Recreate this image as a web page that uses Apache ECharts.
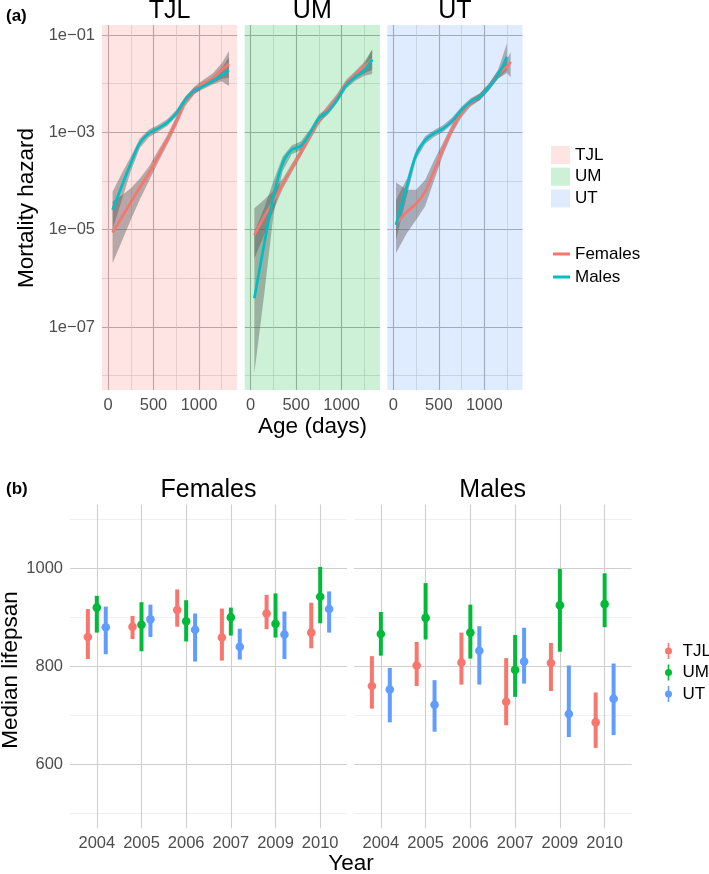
<!DOCTYPE html>
<html><head><meta charset="utf-8">
<script src="https://cdn.jsdelivr.net/npm/echarts@6/dist/echarts.min.js"></script>
<style>html,body{margin:0;padding:0;background:#fff}#c{width:709px;height:874px}</style>
</head><body><div id="c"></div>
<script>
// ================= DATA =================
// Panel (a): mortality hazard, values are log10(hazard)
const ageTJL = [50,150,250,350,450,550,650,750,850,950,1050,1150,1250,1330];
const ageUM  = [40,150,250,350,450,550,650,750,850,950,1050,1150,1250,1335];
const ageUT  = [30,150,250,350,450,550,650,750,850,950,1050,1150,1250,1290];

const tjlF   = [-5.06,-4.75,-4.44,-4.13,-3.84,-3.50,-3.16,-2.78,-2.37,-2.14,-1.99,-1.89,-1.72,-1.60];
const tjlFlo = [-5.69,-5.25,-4.80,-4.38,-4.00,-3.62,-3.26,-2.88,-2.46,-2.22,-2.07,-1.99,-1.90,-1.88];
const tjlFhi = [-4.42,-4.30,-4.15,-3.95,-3.70,-3.38,-3.06,-2.68,-2.28,-2.06,-1.92,-1.79,-1.58,-1.33];
const tjlM   = [-4.59,-4.11,-3.64,-3.22,-3.02,-2.92,-2.80,-2.61,-2.33,-2.14,-2.05,-1.94,-1.82,-1.72];
const tjlMlo = [-5.00,-4.40,-3.80,-3.32,-3.10,-2.99,-2.87,-2.68,-2.40,-2.20,-2.11,-2.02,-1.95,-2.05];
const tjlMhi = [-4.22,-3.85,-3.50,-3.12,-2.94,-2.85,-2.73,-2.54,-2.26,-2.08,-1.99,-1.86,-1.68,-1.45];

const umF    = [-5.11,-4.73,-4.41,-4.07,-3.74,-3.42,-3.09,-2.76,-2.51,-2.28,-1.99,-1.82,-1.65,-1.50];
const umFlo  = [-5.60,-5.10,-4.60,-4.17,-3.83,-3.50,-3.17,-2.84,-2.58,-2.35,-2.06,-1.90,-1.78,-1.72];
const umFhi  = [-4.56,-4.38,-4.20,-3.96,-3.65,-3.34,-3.01,-2.68,-2.44,-2.21,-1.92,-1.74,-1.55,-1.30];
const umM    = [-6.41,-5.28,-4.32,-3.64,-3.36,-3.28,-3.02,-2.71,-2.57,-2.33,-2.03,-1.86,-1.72,-1.51];
const umMlo  = [-7.95,-6.30,-4.70,-3.80,-3.45,-3.37,-3.10,-2.79,-2.64,-2.40,-2.10,-1.94,-1.84,-1.80];
const umMhi  = [-5.05,-4.55,-4.00,-3.50,-3.27,-3.19,-2.94,-2.63,-2.50,-2.26,-1.96,-1.78,-1.60,-1.30];

const utF    = [-4.88,-4.63,-4.47,-4.22,-3.79,-3.33,-2.92,-2.61,-2.40,-2.27,-2.07,-1.82,-1.65,-1.55];
const utFlo  = [-5.48,-5.07,-4.80,-4.52,-3.98,-3.45,-3.02,-2.69,-2.47,-2.34,-2.14,-1.90,-1.78,-1.87];
const utFhi  = [-4.03,-4.18,-4.18,-3.98,-3.57,-3.20,-2.82,-2.53,-2.33,-2.20,-2.00,-1.74,-1.50,-1.35];
const utM    = [-4.90,-4.11,-3.46,-3.16,-3.02,-2.92,-2.76,-2.54,-2.37,-2.27,-2.07,-1.82,-1.45,null];
const utMlo  = [-5.21,-4.30,-3.56,-3.24,-3.09,-2.99,-2.83,-2.61,-2.44,-2.34,-2.14,-1.90,-1.72,null];
const utMhi  = [-4.39,-3.95,-3.37,-3.08,-2.95,-2.85,-2.69,-2.47,-2.30,-2.20,-2.00,-1.72,-1.17,null];

const hazardMajor = [-7,-5,-3,-1];
const hazardMinor = [-8,-6,-4,-2];
const ageMajor = [0,500,1000];
const ageMinor = [250,750,1250];

// Panel (b): median lifespan
const years = ['2004','2005','2006','2007','2009','2010'];
const fTJL   = [860,881,915,859,908,869];
const fTJLlo = [815,856,881,812,876,837];
const fTJLhi = [917,903,957,918,946,930];
const fUM    = [920,885,892,900,887,942];
const fUMlo  = [869,831,851,863,859,888];
const fUMhi  = [944,931,935,920,949,1003];
const fUT    = [880,896,875,840,865,917];
const fUTlo  = [825,860,810,814,815,869];
const fUThi  = [922,926,908,877,912,953];

const mTJL   = [760,802,808,728,807,686];
const mTJLlo = [714,760,763,680,750,634];
const mTJLhi = [821,850,869,817,848,747];
const mUM    = [866,899,869,793,925,927];
const mUMlo  = [822,855,816,738,830,880];
const mUMhi  = [911,970,926,864,999,990];
const mUT    = [753,722,832,810,703,734];
const mUTlo  = [686,667,763,765,656,660];
const mUThi  = [797,772,882,879,802,806];

const lifeMajor = [600,800,1000];
const lifeMinor = [500,700,900,1100];

// ================= STYLE / LAYOUT =================
const FONT = '"Liberation Sans", Arial, Helvetica, sans-serif';
const siteCol = {TJL:'#F8766D', UM:'#00BA38', UT:'#619CFF'};
const siteFill = {TJL:'rgba(248,118,109,0.2)', UM:'rgba(0,186,56,0.2)', UT:'rgba(97,156,255,0.2)'};
const sexCol = {Females:'#F8766D', Males:'#00BFC4'};
const tickCol = '#4d4d4d';

const panelsA = [
  {site:'TJL', left:102,   ages:ageTJL, F:tjlF, Flo:tjlFlo, Fhi:tjlFhi, M:tjlM, Mlo:tjlMlo, Mhi:tjlMhi},
  {site:'UM',  left:244.7, ages:ageUM,  F:umF,  Flo:umFlo,  Fhi:umFhi,  M:umM,  Mlo:umMlo,  Mhi:umMhi},
  {site:'UT',  left:387.3, ages:ageUT,  F:utF,  Flo:utFlo,  Fhi:utFhi,  M:utM,  Mlo:utMlo,  Mhi:utMhi}
];
const panelsB = [
  {left:70,  width:277,   series:{TJL:[fTJL,fTJLlo,fTJLhi], UM:[fUM,fUMlo,fUMhi], UT:[fUT,fUTlo,fUThi]}},
  {left:354, width:277.5, series:{TJL:[mTJL,mTJLlo,mTJLhi], UM:[mUM,mUMlo,mUMhi], UT:[mUT,mUTlo,mUThi]}}
];

const grid = [], xAxis = [], yAxis = [], series = [];
const majA = {color:'#b0b0b0', width:1.1};
const minA = {color:'#cdcdcd', width:0.6};
const majB = {color:'#cfcfcf', width:1.1};
const minB = {color:'#e6e6e6', width:0.6};

function valAxis(gi, min, max, major, showLabels, fmt, lineStyle, extra) {
  return Object.assign({
    type:'value', gridIndex:gi, min:min, max:max,
    axisLine:{show:false},
    axisTick:{show:false, customValues:major},
    axisLabel:{show:showLabels, customValues:major, formatter:fmt, color:tickCol,
               fontSize:16.5, fontFamily:FONT, margin:7},
    splitLine:{show:true, lineStyle:lineStyle},
    minorTick:{show:false}, minorSplitLine:{show:false}
  }, extra || {});
}

// ---- panel (a) ----
panelsA.forEach((p, g) => {
  grid.push({left:p.left, top:25, width:135.2, height:365, outerBoundsMode:'none', containLabel:false});
});
panelsA.forEach((p, g) => {
  xAxis.push(valAxis(g, -66, 1420, ageMajor, true, v => String(v), majA));
});
panelsA.forEach((p, g) => {
  xAxis.push(valAxis(g, -66, 1420, ageMinor, false, null, minA));
});
panelsA.forEach((p, g) => {
  yAxis.push(valAxis(g, -8.294, -0.795, hazardMajor, g === 0,
    v => '1e\u22120' + Math.round(-v), majA));
});
panelsA.forEach((p, g) => {
  yAxis.push(valAxis(g, -8.294, -0.795, hazardMinor, false, null, minA));
});

function ribbon(g, ages, lo, hi) {
  return {
    type:'custom', xAxisIndex:g, yAxisIndex:g, z:3, silent:true, clip:true,
    data:[[ages[0], lo[0]]],
    renderItem:(params, api) => {
      const up = [], dn = [];
      ages.forEach((a, i) => {
        if (lo[i] == null || hi[i] == null) return;
        up.push(api.coord([a, hi[i]]));
        dn.push(api.coord([a, lo[i]]));
      });
      return {type:'polygon', shape:{points: up.concat(dn.reverse())},
              style:{fill:'rgba(85,85,85,0.42)'}};
    }
  };
}
function pairs(ages, vals) {
  const out = [];
  ages.forEach((a, i) => { if (vals[i] != null) out.push([a, vals[i]]); });
  return out;
}

panelsA.forEach((p, g) => {
  series.push({
    type:'custom', name:p.site + ' panel', xAxisIndex:g, yAxisIndex:g, z:1, silent:true,
    data:[[0, -5]],
    renderItem:(params, api) => {
      const cs = params.coordSys;
      return {type:'rect', shape:{x:cs.x, y:cs.y, width:cs.width, height:cs.height},
              style:{fill:siteFill[p.site]}};
    }
  });
  series.push(ribbon(g, p.ages, p.Flo, p.Fhi));
  series.push(ribbon(g, p.ages, p.Mlo, p.Mhi));
  ['Females','Males'].forEach(sx => {
    const v = sx === 'Females' ? p.F : p.M;
    series.push({
      type:'line', name:sx, xAxisIndex:g, yAxisIndex:g, z:4,
      data:pairs(p.ages, v), smooth:0.35, symbol:'none', showSymbol:false,
      lineStyle:{color:sexCol[sx], width:2.7}, itemStyle:{color:sexCol[sx]}
    });
  });
});

// ---- panel (b) ----
panelsB.forEach((p) => {
  grid.push({left:p.left, top:504.6, width:p.width, height:323.7, outerBoundsMode:'none', containLabel:false});
});
panelsB.forEach((p, k) => {
  xAxis.push(valAxis(3 + k, -0.6, 5.6, [0,1,2,3,4,5], true, v => years[Math.round(v)], majB));
});
panelsB.forEach((p, k) => {
  yAxis.push(valAxis(3 + k, 470, 1130, lifeMajor, k === 0, v => String(v), majB));
});
panelsB.forEach((p, k) => {
  yAxis.push(valAxis(3 + k, 470, 1130, lifeMinor, false, null, minB));
});

const dodge = {TJL:-0.2, UM:0, UT:0.2};
panelsB.forEach((p, k) => {
  ['TJL','UM','UT'].forEach(site => {
    const [mid, lo, hi] = p.series[site];
    series.push({
      type:'custom', name:site, xAxisIndex:6 + k, yAxisIndex:6 + k, z:4,
      itemStyle:{color:siteCol[site]},
      encode:{x:0, y:[1,2,3]},
      data:years.map((y, i) => [i, mid[i], lo[i], hi[i]]),
      renderItem:(params, api) => {
        const x = api.value(0) + dodge[site];
        const pm = api.coord([x, api.value(1)]);
        const pl = api.coord([x, api.value(2)]);
        const ph = api.coord([x, api.value(3)]);
        return {type:'group', children:[
          {type:'line', shape:{x1:pl[0], y1:pl[1], x2:ph[0], y2:ph[1]},
           style:{stroke:siteCol[site], lineWidth:4}},
          {type:'circle', shape:{cx:pm[0], cy:pm[1], r:4.3}, style:{fill:siteCol[site]}}
        ]};
      }
    });
  });
});

// ---- texts ----
function txt(s, x, y, size, opts) {
  return Object.assign({type:'text', x:x, y:y, silent:true,
    style:Object.assign({text:s, fontSize:size, fontFamily:FONT, fill:'#000',
      textAlign:'center', textVerticalAlign:'middle'}, (opts && opts.style) || {})},
    opts && opts.rotation != null ? {rotation:opts.rotation} : {});
}
const graphic = [
  txt('(a)', 6, 16, 17, {style:{fontWeight:'bold', textAlign:'left'}}),
  txt('TJL', 169.6, 11, 25),
  txt('UM', 312.3, 11, 25),
  txt('UT', 454.9, 11, 25),
  txt('Mortality hazard', 27, 208, 22.5, {rotation:Math.PI/2}),
  txt('Age (days)', 312.5, 427, 22.5),
  txt('(b)', 6, 489, 17, {style:{fontWeight:'bold', textAlign:'left'}}),
  txt('Females', 208.5, 490, 25),
  txt('Males', 492.7, 490, 25),
  txt('Median lifepsan', 11, 670, 22.5, {rotation:Math.PI/2}),
  txt('Year', 351, 864, 22.5)
];

const prIcon = 'path://M3.2,0H4.8V16H3.2Z M4,4.5A3.5,3.5 0 1 1 4,11.5A3.5,3.5 0 1 1 4,4.5Z';
const legend = [
  {
    orient:'vertical', left:546, top:141, itemWidth:19, itemHeight:18, itemGap:3.7,
    selectedMode:false, textStyle:{fontSize:17, color:'#000', fontFamily:FONT, lineHeight:18},
    itemStyle:{borderWidth:0},
    data:['TJL','UM','UT'].map(s => ({name:s, icon:'rect', itemStyle:{color:siteFill[s], borderWidth:0}}))
  },
  {
    orient:'vertical', left:548, top:239, itemWidth:17, itemHeight:3, itemGap:3,
    selectedMode:false, textStyle:{fontSize:17, color:'#000', fontFamily:FONT, lineHeight:20},
    itemStyle:{borderWidth:0}, lineStyle:{width:0},
    data:['Females','Males'].map(s => ({name:s, icon:'rect', itemStyle:{color:sexCol[s], borderWidth:0}}))
  },
  {
    orient:'vertical', left:660, top:637, itemWidth:8, itemHeight:16, itemGap:3.5,
    selectedMode:false, textStyle:{fontSize:17, color:'#000', fontFamily:FONT, lineHeight:18, padding:[0,0,0,5]},
    itemStyle:{borderWidth:0},
    data:['TJL','UM','UT'].map(s => ({name:s, icon:prIcon, itemStyle:{color:siteCol[s], borderWidth:0}}))
  }
];

const chart = echarts.init(document.getElementById('c'), null, {renderer:'canvas'});
chart.setOption({
  animation:false,
  backgroundColor:'#ffffff',
  textStyle:{fontFamily:FONT},
  grid:grid, xAxis:xAxis, yAxis:yAxis, series:series, legend:legend, graphic:graphic
});
</script>
</body></html>
